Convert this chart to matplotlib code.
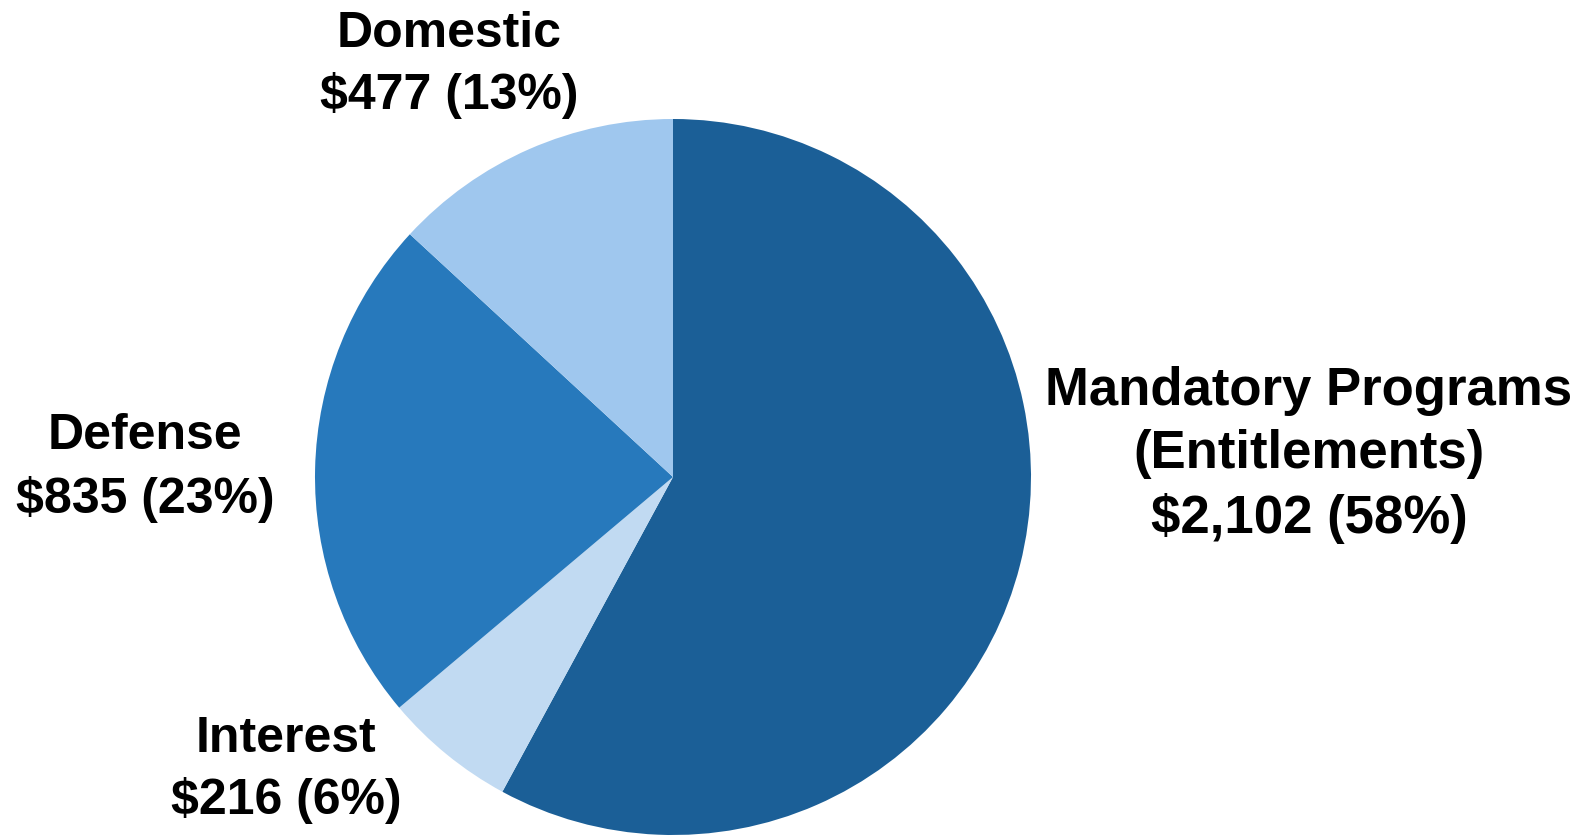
import matplotlib
matplotlib.use("Agg")
import matplotlib.pyplot as plt

# Federal spending by category, billions of dollars
categories = ["Mandatory Programs\n(Entitlements)", "Interest", "Defense", "Domestic"]
values = [2102, 216, 835, 477]
colors = ["#1B5F97", "#C1DAF2", "#2779BC", "#9FC7EE"]

# label anchor points in figure pixels (x from left, y from top), font sizes, line spacing
label_xy = [(1309, 455), (286, 770), (145, 468), (449, 65)]
label_size = [38, 36, 36, 36]
label_spacing = [1.34, 1.42, 1.44, 1.40]

W, H = 1591, 836
fig = plt.figure(figsize=(W / 100, H / 100), dpi=100)
fig.patch.set_facecolor("white")

cx, cy, r = 673, 477, 358
ax = fig.add_axes([(cx - r) / W, (H - cy - r) / H, 2 * r / W, 2 * r / H])
ax.pie(values, colors=colors, startangle=90, counterclock=False,
       radius=1.0, wedgeprops=dict(linewidth=0))
ax.set_xlim(-1, 1)
ax.set_ylim(-1, 1)
ax.set_aspect("equal")
ax.axis("off")

total = sum(values)
for name, val, (x, y), fs, ls in zip(categories, values, label_xy, label_size, label_spacing):
    pct = round(100 * val / total)
    text = f"{name}\n${val:,} ({pct}%)"
    fig.text(x / W, 1 - y / H, text, ha="center", va="center",
             fontsize=fs, fontweight="bold", family=["Liberation Sans", "DejaVu Sans"],
             linespacing=ls, color="black")

fig.savefig("out.png", dpi=100, facecolor="white")
